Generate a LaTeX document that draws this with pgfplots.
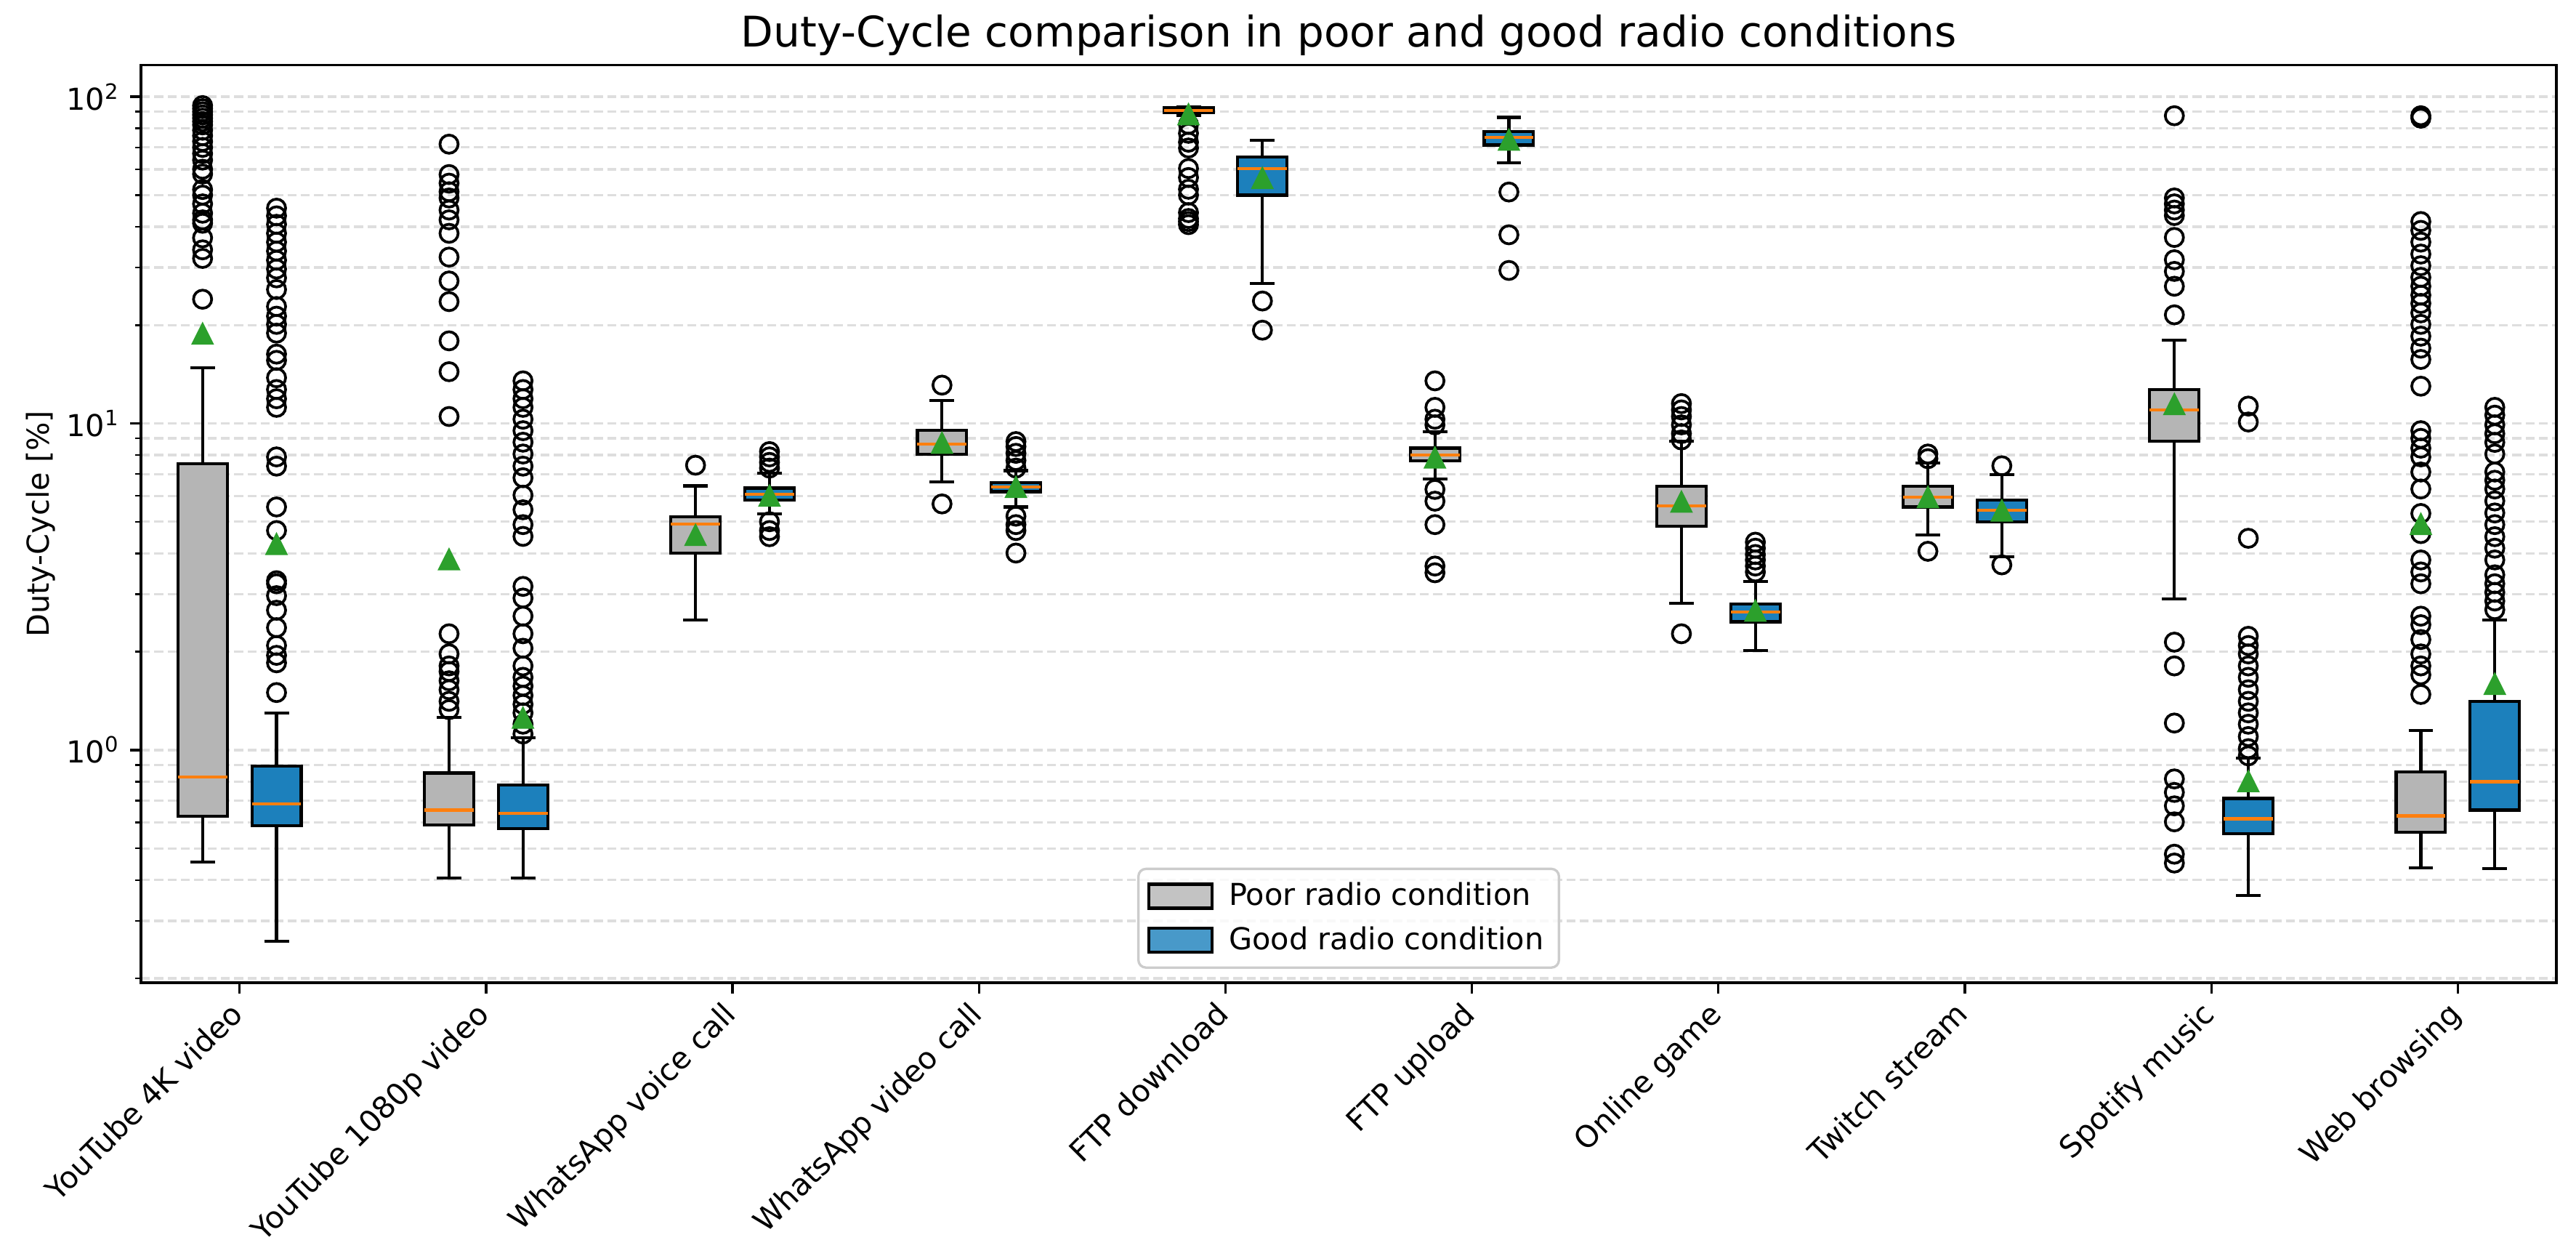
\documentclass[border=0pt]{standalone}
\usepackage{fontspec}
\setmainfont{DejaVu Sans}
\usepackage{pgfplots}
\pgfplotsset{compat=1.18}

\definecolor{poorgray}{RGB}{181,181,181}
\definecolor{goodblue}{RGB}{28,128,188}
\definecolor{mplorange}{RGB}{255,127,14}
\definecolor{mplgreen}{RGB}{44,160,44}
\definecolor{gridgray}{RGB}{222,222,222}

% matplotlib style "^" marker
\pgfdeclareplotmark{mtri}{%
  \pgfpathmoveto{\pgfqpoint{0pt}{\pgfplotmarksize}}%
  \pgfpathlineto{\pgfqpoint{-\pgfplotmarksize}{-\pgfplotmarksize}}%
  \pgfpathlineto{\pgfqpoint{\pgfplotmarksize}{-\pgfplotmarksize}}%
  \pgfpathclose\pgfusepathqfill}

% one box: style, centre, lower whisker, q1, median, q3, upper whisker
\newcommand{\bx}[7]{%
  \pgfmathsetmacro\xa{#2-0.1}\pgfmathsetmacro\xb{#2+0.1}%
  \pgfmathsetmacro\ca{#2-0.05}\pgfmathsetmacro\cb{#2+0.05}%
  \edef\temp{%
    \noexpand\addplot[whisk] coordinates {(#2,#3) (#2,#4)};
    \noexpand\addplot[whisk] coordinates {(#2,#6) (#2,#7)};
    \noexpand\addplot[whisk] coordinates {(\ca,#3) (\cb,#3)};
    \noexpand\addplot[whisk] coordinates {(\ca,#7) (\cb,#7)};
    \noexpand\addplot[#1] coordinates {(\xa,#4) (\xb,#4) (\xb,#6) (\xa,#6)} -- cycle;
    \noexpand\addplot[med] coordinates {(\xa,#5) (\xb,#5)};
  }\temp}

\begin{document}
\begin{tikzpicture}
\begin{axis}[
  name=ax,
  scale only axis,
  width=797.8bp, height=303bp,
  ymode=log,
  xmin=-0.4, xmax=9.4,
  ymin=0.194, ymax=125,
  xtick={0,1,2,3,4,5,6,7,8,9},
  xticklabels={YouTube 4K video, YouTube 1080p video, WhatsApp voice call,
    WhatsApp video call, FTP download, FTP upload, Online game,
    Twitch stream, Spotify music, Web browsing},
  xticklabel style={xshift=-3.8bp, yshift=-2bp, rotate=45, anchor=north east, inner sep=0pt},
  ytick={1,10,100},
  yticklabels={10\textsuperscript{0},10\textsuperscript{1},10\textsuperscript{2}},
  minor ytick={0.2,0.3,0.4,0.5,0.6,0.7,0.8,0.9,2,3,4,5,6,7,8,9,20,30,40,50,60,70,80,90},
  tick pos=left,
  tick align=outside,
  major tick length=3.5bp, minor tick length=2bp,
  major tick style={line width=0.8bp, black},
  minor tick style={line width=0.6bp, black},
  axis line style={line width=0.8bp},
  ymajorgrids, yminorgrids,
  major grid style={gridgray, dash pattern=on 3bp off 1.4bp, line width=0.8bp},
  minor grid style={gridgray, dash pattern=on 3bp off 1.4bp, line width=0.8bp},
  title={Duty-Cycle comparison in poor and good radio conditions},
  every axis title/.style={at={(axis description cs:0.5,1)}, anchor=base,
    yshift=6.1bp, inner sep=0pt, font=\fontsize{14}{16.8}\selectfont},
  ylabel={Duty-Cycle [\%]},
  every axis y label/.style={at={(axis description cs:-0.0382,0.5)},
    rotate=90, anchor=base, inner sep=0pt},
  legend style={at={(axis description cs:0.5,0)}, anchor=south, yshift=4.6bp,
    draw=black!20, rounded corners=2.5bp, fill=white, fill opacity=0.8,
    text opacity=1, draw opacity=1, line width=0.8bp,
    inner xsep=3bp, inner ysep=2.5bp, row sep=1.5bp},
  legend cell align=left,
  whisk/.style={black, line width=1bp, solid, mark=none, forget plot},
  med/.style={mplorange, line width=1bp, solid, mark=none, forget plot},
  boxP/.style={draw=black, fill=poorgray, line width=1bp, solid, mark=none, forget plot},
  boxG/.style={draw=black, fill=goodblue, line width=1bp, solid, mark=none, forget plot},
  flier/.style={only marks, mark=o, mark size=3bp,
    mark options={draw=black, fill=none, line width=0.9bp}, forget plot},
  meanmark/.style={only marks, mark=mtri, mark size=3.8bp, color=mplgreen, forget plot},
]
\addlegendimage{legend image code/.code={\draw[sharp corners, fill=poorgray, draw=black,
  line width=1bp] (0bp,-3.95bp) rectangle (20.9bp,3.95bp); \path (24bp,0bp);}}
\addlegendentry{Poor radio condition}
\addlegendimage{legend image code/.code={\draw[sharp corners, fill=goodblue, draw=black,
  line width=1bp] (0bp,-3.95bp) rectangle (20.9bp,3.95bp); \path (24bp,0bp);}}
\addlegendentry{Good radio condition}

% poor radio condition
\bx{boxP}{-0.15}{0.455}{0.626}{0.826}{7.54}{14.8}
\bx{boxP}{0.85}{0.406}{0.59}{0.655}{0.851}{1.26}
\bx{boxP}{1.85}{2.50}{4.01}{4.92}{5.17}{6.44}
\bx{boxP}{2.85}{6.63}{8.06}{8.65}{9.52}{11.75}
\bx{boxP}{3.85}{87.5}{89.4}{90.9}{92.4}{93.1}
\bx{boxP}{4.85}{6.77}{7.67}{8.0}{8.4}{9.43}
\bx{boxP}{5.85}{2.82}{4.84}{5.59}{6.41}{8.83}
\bx{boxP}{6.85}{4.55}{5.55}{5.95}{6.41}{7.57}
\bx{boxP}{7.85}{2.90}{8.83}{11.0}{12.7}{18.0}
\bx{boxP}{8.85}{0.436}{0.56}{0.629}{0.858}{1.15}

% good radio condition
\bx{boxG}{0.15}{0.26}{0.586}{0.683}{0.894}{1.30}
\bx{boxG}{1.15}{0.406}{0.574}{0.639}{0.783}{1.09}
\bx{boxG}{2.15}{5.28}{5.83}{6.08}{6.34}{7.03}
\bx{boxG}{3.15}{5.55}{6.18}{6.39}{6.6}{7.17}
\bx{boxG}{4.15}{26.8}{50}{60.3}{65.5}{73.6}
\bx{boxG}{5.15}{62.8}{71.2}{75.1}{78.3}{86.5}
\bx{boxG}{6.15}{2.02}{2.47}{2.65}{2.80}{3.28}
\bx{boxG}{7.15}{3.9}{5.0}{5.43}{5.83}{6.97}
\bx{boxG}{8.15}{0.359}{0.555}{0.616}{0.711}{0.944}
\bx{boxG}{9.15}{0.433}{0.655}{0.8}{1.41}{2.50}

% outliers, poor
\addplot[flier] coordinates {
  (-0.15,94) (-0.15,92) (-0.15,90) (-0.15,88) (-0.15,86) (-0.15,84) (-0.15,82)
  (-0.15,79) (-0.15,76) (-0.15,73) (-0.15,70) (-0.15,67) (-0.15,64) (-0.15,60)
  (-0.15,58) (-0.15,52) (-0.15,50) (-0.15,47) (-0.15,44) (-0.15,42) (-0.15,41)
  (-0.15,37) (-0.15,34) (-0.15,32) (-0.15,24)
  (0.85,71.6) (0.85,57.8) (0.85,54.4) (0.85,51.2) (0.85,49) (0.85,45) (0.85,42)
  (0.85,38.2) (0.85,32.3) (0.85,27.3) (0.85,23.6) (0.85,17.9) (0.85,14.4) (0.85,10.5)
  (0.85,2.27) (0.85,1.97) (0.85,1.81) (0.85,1.74) (0.85,1.63) (0.85,1.53) (0.85,1.41) (0.85,1.33)
  (1.85,7.45)
  (2.85,13.1) (2.85,5.67)
  (3.85,82.3) (3.85,77.3) (3.85,72.6) (3.85,69.7) (3.85,60.3) (3.85,56.6) (3.85,52.1)
  (3.85,50) (3.85,44.2) (3.85,42.4) (3.85,41.5) (3.85,40.6)
  (4.85,13.5) (4.85,11.2) (4.85,10.3) (4.85,9.9) (4.85,6.28) (4.85,5.78) (4.85,4.9)
  (4.85,3.66) (4.85,3.49)
  (5.85,11.5) (5.85,11.0) (5.85,10.5) (5.85,9.9) (5.85,9.31) (5.85,8.9) (5.85,2.27)
  (6.85,8.06) (6.85,7.8) (6.85,4.06)
  (7.85,87.5) (7.85,49) (7.85,47) (7.85,45) (7.85,43.3) (7.85,37.1) (7.85,31.7)
  (7.85,29.2) (7.85,26.3) (7.85,21.5) (7.85,2.14) (7.85,1.81) (7.85,1.21) (7.85,0.816)
  (7.85,0.742) (7.85,0.675) (7.85,0.603) (7.85,0.48) (7.85,0.451)
  (8.85,87.5) (8.85,86) (8.85,41.5) (8.85,39) (8.85,35.9) (8.85,33) (8.85,30.4)
  (8.85,28) (8.85,26.3) (8.85,24.7) (8.85,23.3) (8.85,21.8) (8.85,20.1) (8.85,18.5)
  (8.85,17) (8.85,15.7) (8.85,13) (8.85,9.5) (8.85,9) (8.85,8.4) (8.85,7.9) (8.85,7.1)
  (8.85,6.3) (8.85,5.3) (8.85,4.6) (8.85,3.82) (8.85,3.51) (8.85,3.23) (8.85,2.57)
  (8.85,2.42) (8.85,2.18) (8.85,1.97) (8.85,1.81) (8.85,1.70) (8.85,1.48)
};

% outliers, good
\addplot[flier] coordinates {
  (0.15,45.6) (0.15,43.2) (0.15,40.7) (0.15,38.2) (0.15,35.9) (0.15,33.7) (0.15,31.6)
  (0.15,29.7) (0.15,27.9) (0.15,25.7) (0.15,22.8) (0.15,21.3) (0.15,20.1) (0.15,18.9)
  (0.15,16.3) (0.15,15.6) (0.15,13.8) (0.15,12.7) (0.15,11.9) (0.15,11.2) (0.15,7.9)
  (0.15,7.4) (0.15,5.55) (0.15,4.7) (0.15,3.3) (0.15,3.23) (0.15,2.97) (0.15,2.68)
  (0.15,2.37) (0.15,2.09) (0.15,1.95) (0.15,1.85) (0.15,1.50)
  (1.15,13.5) (1.15,12.7) (1.15,11.9) (1.15,11.2) (1.15,10.3) (1.15,9.5) (1.15,8.76)
  (1.15,8.06) (1.15,7.4) (1.15,6.82) (1.15,6.03) (1.15,5.44) (1.15,4.9) (1.15,4.51)
  (1.15,3.17) (1.15,2.92) (1.15,2.57) (1.15,2.27) (1.15,2.05) (1.15,1.81) (1.15,1.67)
  (1.15,1.57) (1.15,1.47) (1.15,1.38) (1.15,1.30) (1.15,1.2) (1.15,1.12)
  (2.15,8.2) (2.15,7.9) (2.15,7.6) (2.15,7.3) (2.15,5.0) (2.15,4.7) (2.15,4.5)
  (3.15,8.8) (3.15,8.5) (3.15,8.1) (3.15,7.7) (3.15,7.3) (3.15,5.2) (3.15,4.9)
  (3.15,4.7) (3.15,4.01)
  (4.15,23.7) (4.15,19.3)
  (5.15,51.1) (5.15,37.8) (5.15,29.4)
  (6.15,4.33) (6.15,4.15) (6.15,3.97) (6.15,3.82) (6.15,3.66) (6.15,3.51)
  (7.15,7.42) (7.15,3.69)
  (8.15,11.3) (8.15,10.1) (8.15,4.45) (8.15,2.23) (8.15,2.09) (8.15,1.97) (8.15,1.81)
  (8.15,1.67) (8.15,1.53) (8.15,1.41) (8.15,1.30) (8.15,1.20) (8.15,1.10) (8.15,1.01)
  (8.15,0.96)
  (9.15,11.2) (9.15,10.6) (9.15,9.9) (9.15,9.3) (9.15,8.75) (9.15,8.06) (9.15,7.1)
  (9.15,6.7) (9.15,6.3) (9.15,5.79) (9.15,5.32) (9.15,4.9) (9.15,4.5) (9.15,4.15)
  (9.15,3.82) (9.15,3.44) (9.15,3.23) (9.15,3.04) (9.15,2.86) (9.15,2.69)
};

% means
\addplot[meanmark] coordinates {
  (-0.15,18.9) (0.85,3.85) (1.85,4.57) (2.85,8.75) (3.85,88.7)
  (4.85,7.89) (5.85,5.78) (6.85,5.97) (7.85,11.5) (8.85,4.94)
};
\addplot[meanmark] coordinates {
  (0.15,4.29) (1.15,1.26) (2.15,6.03) (3.15,6.41) (4.15,56.6)
  (5.15,74.1) (6.15,2.68) (7.15,5.43) (8.15,0.806) (9.15,1.60)
};
\end{axis}
\path ([xshift=-46.56bp, yshift=-90bp]ax.south west)
  rectangle ([xshift=6.48bp, yshift=21.5bp]ax.north east);
\end{tikzpicture}
\end{document}
